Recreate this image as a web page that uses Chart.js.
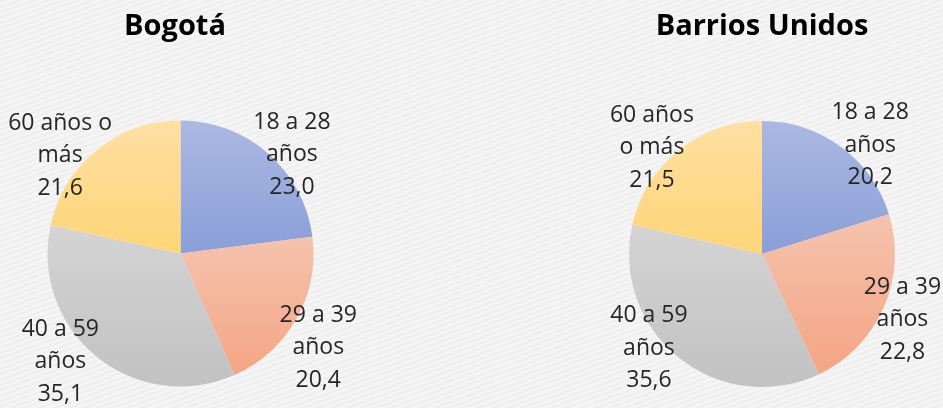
<!DOCTYPE html>
<html>
<head>
<meta charset="utf-8">
<script src="https://cdn.jsdelivr.net/npm/chart.js@4/dist/chart.umd.min.js"></script>
<style>
  html, body { margin: 0; padding: 0; background: #f3f3f3; }
  #wrap { position: relative; width: 943px; height: 408px; overflow: hidden;
    background: repeating-linear-gradient(-20deg, #f5f5f5 0px, #f5f5f5 3px, #efefef 3px, #efefef 5px); }
  .box { position: absolute; top: 0; height: 408px; }
  #b1 { left: 0; width: 471px; }
  #b2 { left: 471px; width: 472px; }
</style>
</head>
<body>
<div id="wrap">
  <div class="box" id="b1"><canvas id="c1"></canvas></div>
  <div class="box" id="b2"><canvas id="c2"></canvas></div>
</div>
<script>
// ---- data ----
const titles = ["Bogotá", "Barrios Unidos"];
const categoryLines = [
  ["18 a 28", "años"],
  ["29 a 39", "años"],
  ["40 a 59", "años"],
  ["60 años o", "más"]
];
const categoryLinesBU = [
  ["18 a 28", "años"],
  ["29 a 39", "años"],
  ["40 a 59", "años"],
  ["60 años", "o más"]
];
const bogotaValues = [23.0, 20.4, 35.1, 21.6];
const barriosValues = [20.2, 22.8, 35.6, 21.5];

// ---- styles ----
const gradTop = ["#abb8e2", "#f5c3ae", "#d4d4d4", "#ffe0a3"];
const gradBottom = ["#8a9fd8", "#f4a584", "#c2c2c2", "#ffd577"];

function sliceGradient(context) {
  const chart = context.chart;
  const area = chart.chartArea;
  if (!area) return gradBottom[context.dataIndex];
  const data = context.dataset.data;
  const total = data.reduce((a, b) => a + b, 0);
  const cy = (area.top + area.bottom) / 2;
  const r = Math.min(area.right - area.left, area.bottom - area.top) / 2;
  let a0 = 0;
  for (let k = 0; k < context.dataIndex; k++) a0 += data[k] / total * 2 * Math.PI;
  const a1 = a0 + data[context.dataIndex] / total * 2 * Math.PI;
  const ys = [cy, cy - r * Math.cos(a0), cy - r * Math.cos(a1)];
  if (a0 <= 0.0001) ys.push(cy - r);
  if (a0 <= Math.PI && a1 >= Math.PI) ys.push(cy + r);
  const y0 = Math.min(...ys), y1 = Math.max(...ys);
  const g = chart.ctx.createLinearGradient(0, y0, 0, y1);
  g.addColorStop(0, gradTop[context.dataIndex]);
  g.addColorStop(1, gradBottom[context.dataIndex]);
  return g;
}

const labelPlugin = {
  id: 'pieLabels',
  afterDatasetsDraw(chart, args, opts) {
    const ctx = chart.ctx;
    const meta = chart.getDatasetMeta(0);
    const data = chart.data.datasets[0].data;
    ctx.save();
    ctx.font = '23px "Open Sans", Lato, sans-serif';
    ctx.fillStyle = '#262626';
    ctx.textAlign = 'center';
    ctx.textBaseline = 'middle';
    meta.data.forEach((arc, i) => {
      const mid = (arc.startAngle + arc.endAngle) / 2;
      const d = arc.outerRadius * 1.12;
      const x = arc.x + Math.cos(mid) * d + opts.nudge[i][0];
      const y = arc.y + Math.sin(mid) * d + opts.nudge[i][1];
      const lines = opts.lines[i].concat([data[i].toFixed(1).replace('.', ',')]);
      lines.forEach((t, j) => {
        ctx.fillText(t, x, y + (j - 1) * 32.5);
      });
    });
    ctx.restore();
  }
};

const titlePlugin = {
  id: 'titleText',
  afterDraw(chart, args, opts) {
    const ctx = chart.ctx;
    ctx.save();
    ctx.font = 'bold 29px "Open Sans", "DejaVu Sans", sans-serif';
    ctx.fillStyle = '#000000';
    ctx.textAlign = 'center';
    ctx.textBaseline = 'middle';
    ctx.fillText(opts.text, opts.x, opts.y);
    ctx.restore();
  }
};

function makeChart(id, title, titleX, values, lines, padding, nudge) {
  return new Chart(document.getElementById(id), {
    type: 'pie',
    data: {
      labels: lines.map(l => l.join(' ')),
      datasets: [{
        data: values,
        backgroundColor: sliceGradient,
        borderWidth: 0
      }]
    },
    options: {
      responsive: true,
      maintainAspectRatio: false,
      animation: false,
      layout: { padding: padding },
      plugins: {
        legend: { display: false },
        tooltip: { enabled: false },
        title: { display: false },
        pieLabels: { lines: lines, nudge: nudge },
        titleText: { text: title, x: titleX, y: 27 }
      }
    },
    plugins: [labelPlugin, titlePlugin]
  });
}

makeChart('c1', titles[0], 175, bogotaValues, categoryLines,
  { left: 47.5, right: 157.5, top: 120.5, bottom: 21.5 },
  [[13, 13], [8, 21], [-26, -7], [-27, 18]]);
makeChart('c2', titles[1], 291, barriosValues, categoryLinesBU,
  { left: 158, right: 48, top: 121, bottom: 21 },
  [[20, 11], [4, 6], [-20, -22], [-17, 10]]);
</script>
</body>
</html>
